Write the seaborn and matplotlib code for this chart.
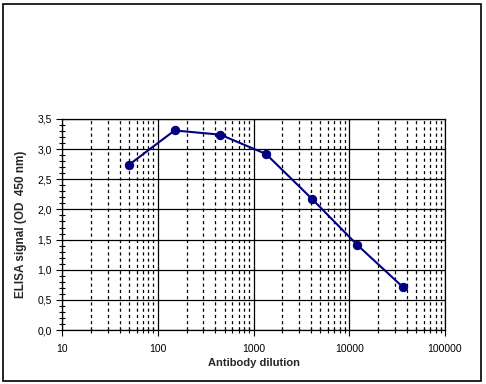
import numpy as np
import pandas as pd
import matplotlib
matplotlib.use("Agg")
import matplotlib.pyplot as plt
import matplotlib.ticker as mticker
from matplotlib.patches import Rectangle
import seaborn as sns

# data (3-fold dilution series)
dilution = [50, 150, 450, 1350, 4050, 12150, 36450]
signal = [2.74, 3.31, 3.24, 2.92, 2.18, 1.41, 0.71]

df = pd.DataFrame({'dilution': dilution, 'signal': signal})

sns.set_style('white')
plt.rcParams['font.family'] = ['Liberation Sans', 'DejaVu Sans']

fig = plt.figure(figsize=(4.86, 3.84), dpi=100)
ax = fig.add_axes([62/486, 1 - 330/384, (445 - 62)/486, (330 - 119)/384])

sns.lineplot(data=df, x='dilution', y='signal', ax=ax, color='#000080',
             marker='o', markersize=6, markeredgecolor='#000080',
             linewidth=1.5, estimator=None, sort=False)

ax.set_xscale('log')
ax.set_xlim(10, 100000)
ax.set_ylim(0, 3.5)

# x ticks
ax.xaxis.set_major_locator(mticker.LogLocator(base=10, numticks=10))
ax.xaxis.set_major_formatter(mticker.FuncFormatter(lambda v, p: f'{int(round(v))}'))
ax.xaxis.set_minor_locator(mticker.LogLocator(base=10, subs=np.arange(2, 10), numticks=20))
ax.xaxis.set_minor_formatter(mticker.NullFormatter())

# y ticks with decimal comma
ax.yaxis.set_major_locator(mticker.MultipleLocator(0.5))
ax.yaxis.set_minor_locator(mticker.MultipleLocator(0.1))
ax.yaxis.set_major_formatter(mticker.FuncFormatter(lambda v, p: f'{v:.1f}'.replace('.', ',')))

ax.grid(True, which='major', axis='both', color='black', linewidth=0.9, linestyle='-')
ax.grid(True, which='minor', axis='x', color='black', linewidth=0.9, linestyle=(0, (2.5, 2.5)))

ax.tick_params(axis='both', which='major', direction='out', length=4, width=0.8,
               colors='black', labelsize=7.5, left=True, bottom=True)
ax.tick_params(axis='both', which='minor', direction='inout', length=4, width=0.8,
               colors='black', left=True, bottom=True)
ax.tick_params(axis='x', which='major', pad=6)

for s in ax.spines.values():
    s.set_color('black')
    s.set_linewidth(0.9)

ax.set_xlabel('Antibody dilution', fontsize=8, fontweight='bold', labelpad=3)
ax.set_ylabel('ELISA signal (OD  450 nm)', fontsize=8.5, fontweight='bold', labelpad=7)

# outer frame around the whole figure
fig.patches.append(Rectangle((3/486, 3/384), 478/486, 377/384, transform=fig.transFigure,
                             fill=False, edgecolor='black', linewidth=1.2))

fig.savefig('out.png', dpi=100)
